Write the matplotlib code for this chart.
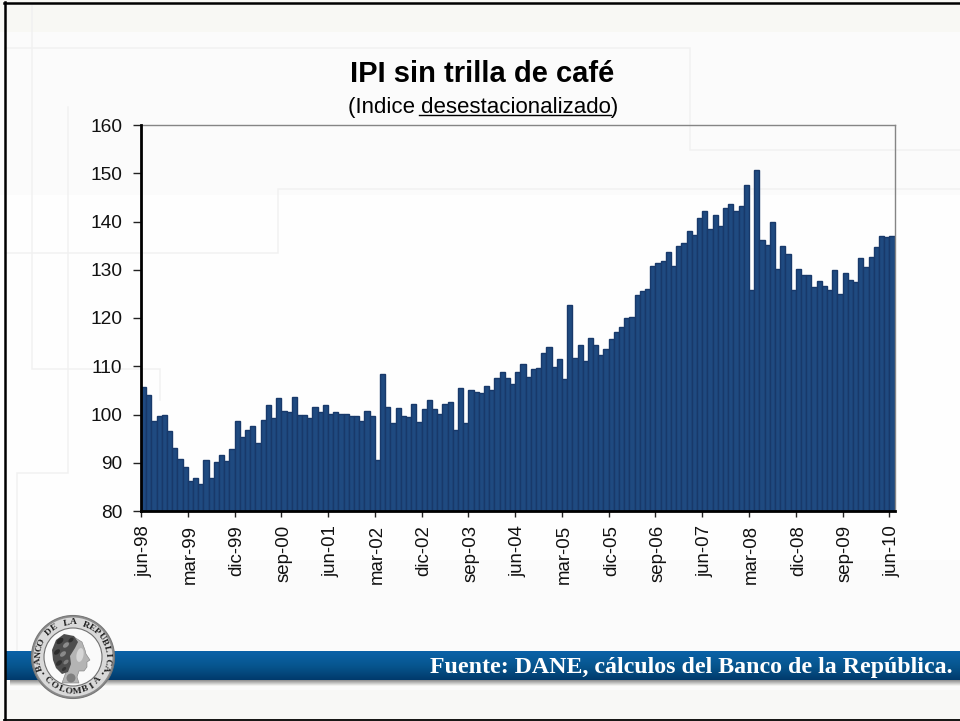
import numpy as np
import matplotlib
matplotlib.use("Agg")
import matplotlib.pyplot as plt
from matplotlib.patches import Circle, Polygon, Ellipse
from matplotlib.colors import LinearSegmentedColormap

values = [
    105.8, 104.0, 98.7, 99.7, 100.0, 96.5, 93.1, 90.8, 89.1, 86.3,
    86.8, 85.5, 90.6, 86.8, 90.2, 91.7, 90.3, 92.9, 98.6, 95.3,
    96.8, 97.6, 94.0, 98.9, 102.0, 99.3, 103.4, 100.8, 100.5, 103.6,
    100.0, 99.9, 99.3, 101.6, 100.6, 102.0, 100.2, 100.5, 100.2, 100.2,
    99.6, 99.6, 98.6, 100.8, 99.7, 90.6, 108.4, 101.6, 98.2, 101.3,
    99.7, 99.4, 102.2, 98.5, 101.1, 103.0, 101.1, 100.2, 102.2, 102.5,
    96.8, 105.4, 98.2, 105.1, 104.7, 104.4, 105.9, 105.1, 107.6, 108.8,
    107.6, 106.3, 108.8, 110.5, 107.8, 109.4, 109.7, 112.8, 113.9, 109.9,
    111.6, 107.4, 122.7, 111.8, 114.4, 111.1, 115.9, 114.4, 112.3, 113.6,
    115.6, 117.0, 118.2, 119.9, 120.3, 124.8, 125.6, 126.1, 130.8, 131.3,
    131.9, 133.6, 130.8, 135.0, 135.6, 138.1, 137.3, 140.7, 142.2, 138.4,
    141.3, 139.0, 142.7, 143.6, 142.2, 143.2, 147.6, 125.9, 150.7, 136.2,
    135.1, 139.9, 130.2, 135.0, 133.3, 125.7, 130.2, 129.0, 129.0, 126.4,
    127.6, 126.7, 125.8, 129.9, 125.0, 129.3, 127.9, 127.5, 132.4, 130.6,
    132.7, 134.7, 137.0, 136.7, 137.0,
]
tick_labels = ["jun-98", "mar-99", "dic-99", "sep-00", "jun-01", "mar-02", "dic-02",
               "sep-03", "jun-04", "mar-05", "dic-05", "sep-06", "jun-07", "mar-08",
               "dic-08", "sep-09", "jun-10"]
y_ticks = [80, 90, 100, 110, 120, 130, 140, 150, 160]
title = "IPI sin trilla de café"
subtitle = "(Indice desestacionalizado)"
source = "Fuente: DANE, cálculos del Banco de la República."

W, H = 960, 721
plt.rcParams["font.family"] = ["Liberation Sans", "DejaVu Sans"]
fig = plt.figure(figsize=(W / 100, H / 100), dpi=100, facecolor="#fbfbfb")

# ---------- slide background ----------
bg = fig.add_axes([0, 0, 1, 1], zorder=0)
bg.set_xlim(0, W)
bg.set_ylim(H, 0)
bg.axis("off")
bg.fill_between([0, W], 0, 32, color="#f8f8f4", lw=0)
bg.fill_between([0, W], 195, 560, color="#fefefe", lw=0)
bg.fill_between([0, W], 690, H, color="#f8f8f6", lw=0)
faint = dict(color="#f1f1f1", lw=1.1, solid_joinstyle="miter")
bg.plot([5, 690, 690, 960], [48, 48, 150, 150], **faint)
bg.plot([5, 278, 278, 960], [253, 253, 189, 189], **faint)
bg.plot([31.5, 31.5, 160, 160], [5, 369, 369, 400], **faint)
bg.plot([67.5, 67.5, 17, 17], [107, 473, 473, 650], **faint)

# bottom band
band = LinearSegmentedColormap.from_list("band", ["#0b62a8", "#07568f", "#013a6c"])
bg.imshow(np.linspace(0, 1, 64).reshape(-1, 1), cmap=band, extent=[5, W, 680, 651],
          aspect="auto", zorder=2)
shadow = LinearSegmentedColormap.from_list("shadow", ["#8e8e8e", "#f8f8f6"])
bg.imshow(np.linspace(0, 1, 16).reshape(-1, 1), cmap=shadow, extent=[10, W, 686, 680],
          aspect="auto", zorder=2)
bg.set_xlim(0, W)
bg.set_ylim(H, 0)
bg.text(952, 668, source, color="white", ha="right", va="center", fontsize=17.2,
        fontweight="bold", family="Liberation Serif", zorder=3)

# frame
bg.plot([4.5, 4.5], [2, 719], color="black", lw=1.8, zorder=6)
bg.plot([4, W], [2.5, 2.5], color="black", lw=1.8, zorder=6)
bg.plot([4, W], [719.5, 719.5], color="black", lw=1.3, zorder=6)

# medallion
cx, cy, r = 73, 657, 41
bg.add_patch(Circle((cx, cy), r + 0.5, fc="#8d8d8d", ec="#777777", lw=0.8, zorder=4))
bg.add_patch(Circle((cx, cy), r - 1.5, fc="#d9d9d9", ec="none", zorder=4))
bg.add_patch(Circle((cx, cy), 29, fc="#fafafa", ec="#707070", lw=0.8, zorder=4))
def ring(txt, start, step, flip=False):
    for k, ch in enumerate(txt):
        a = np.deg2rad(start + k * step)
        rot = np.rad2deg(a) - 90 if not flip else np.rad2deg(a) + 90
        bg.text(cx + 34.5 * np.cos(a), cy - 34.5 * np.sin(a), ch, rotation=rot,
                rotation_mode="anchor", ha="center", va="center", fontsize=6.8,
                fontweight="bold", family="Liberation Serif", color="#222222", zorder=5)
ring("BANCO DE LA REPUBLICA", 198, -10.8)
ring("COLOMBIA", 223, 13.4, flip=True)
for ang in (209, -29):
    bg.add_patch(Circle((cx + 34 * np.cos(np.deg2rad(ang)), cy - 34 * np.sin(np.deg2rad(ang))),
                        1.0, fc="#222222", ec="none", zorder=5))
# portrait facing right
bg.add_patch(Polygon([(74, 637), (82, 642), (85, 650), (86, 654), (90, 660), (87, 662),
                      (87, 667), (84, 671), (79, 671), (77, 677), (79, 683), (62, 683),
                      (66, 672), (60, 660)],
                     fc="#b4b4b4", ec="#7e7e7e", lw=0.4, zorder=5))
bg.add_patch(Polygon([(74, 636), (64, 634), (56, 640), (52, 650), (53, 660), (56, 668),
                      (62, 674), (68, 672), (71, 664), (70, 656), (75, 648), (78, 642)],
                     fc="#4e4e4e", ec="none", zorder=5))
for hx, hy, hw, hc in [(60, 641, 8, "#2c2c2c"), (66, 645, 7, "#8c8c8c"), (57, 652, 7, "#2c2c2c"),
                       (63, 654, 7, "#8a8a8a"), (59, 663, 7, "#303030"), (66, 662, 6, "#7d7d7d"),
                       (71, 640, 6, "#2f2f2f"), (64, 669, 5, "#333333")]:
    bg.add_patch(Ellipse((hx, hy), hw, hw * 0.6, angle=-40, fc=hc, ec="none", zorder=5))
bg.add_patch(Ellipse((80, 655), 7, 14, angle=10, fc="#d6d6d6", ec="none", zorder=5))
bg.add_patch(Ellipse((71, 678), 9, 9, fc="#7f7f7f", ec="none", zorder=5))

# ---------- chart ----------
L, R, T, B = 141, 894.5, 125, 511
ax = fig.add_axes([L / W, 1 - B / H, (R - L) / W, (B - T) / H], zorder=1)
ax.patch.set_alpha(0)
x = np.arange(len(values))
ax.bar(x + 0.5, values, width=1.0, color="#1f4a80", edgecolor="#18396a", linewidth=1.0, zorder=2)
ax.set_xlim(0, len(values))
ax.set_ylim(y_ticks[0], y_ticks[-1])
ax.set_yticks(y_ticks)
ax.tick_params(axis="y", labelsize=13.8, length=5.5, width=1, pad=8, color="#222222", labelcolor="#111111")

label_idx = x[::9]
ax.set_xticks(label_idx)
ax.set_xticklabels([])
ax.tick_params(axis="x", which="major", length=4, width=1, color="#222222")
ax.set_xticks(label_idx + 0.5, minor=True)
ax.set_xticklabels(tick_labels, minor=True, rotation=90, ha="center", va="top",
                   fontsize=13.4, color="#111111")
ax.tick_params(axis="x", which="minor", length=0, pad=10)

for s in ("top", "right"):
    ax.spines[s].set_color("#858585")
    ax.spines[s].set_linewidth(1.0)
for s in ("left", "bottom"):
    ax.spines[s].set_color("black")
    ax.spines[s].set_linewidth(2.0)
    ax.spines[s].set_zorder(5)

# title block
fig.text(482 / W, 1 - 74 / H, title, ha="center", va="center", fontsize=21, fontweight="bold", color="black")
fig.text(483 / W, 1 - 107 / H, subtitle, ha="center", va="center", fontsize=16, color="black")
bg.plot([419, 611], [115, 115], color="black", lw=1.0, zorder=3)

fig.savefig("out.png", dpi=100, facecolor=fig.get_facecolor())
